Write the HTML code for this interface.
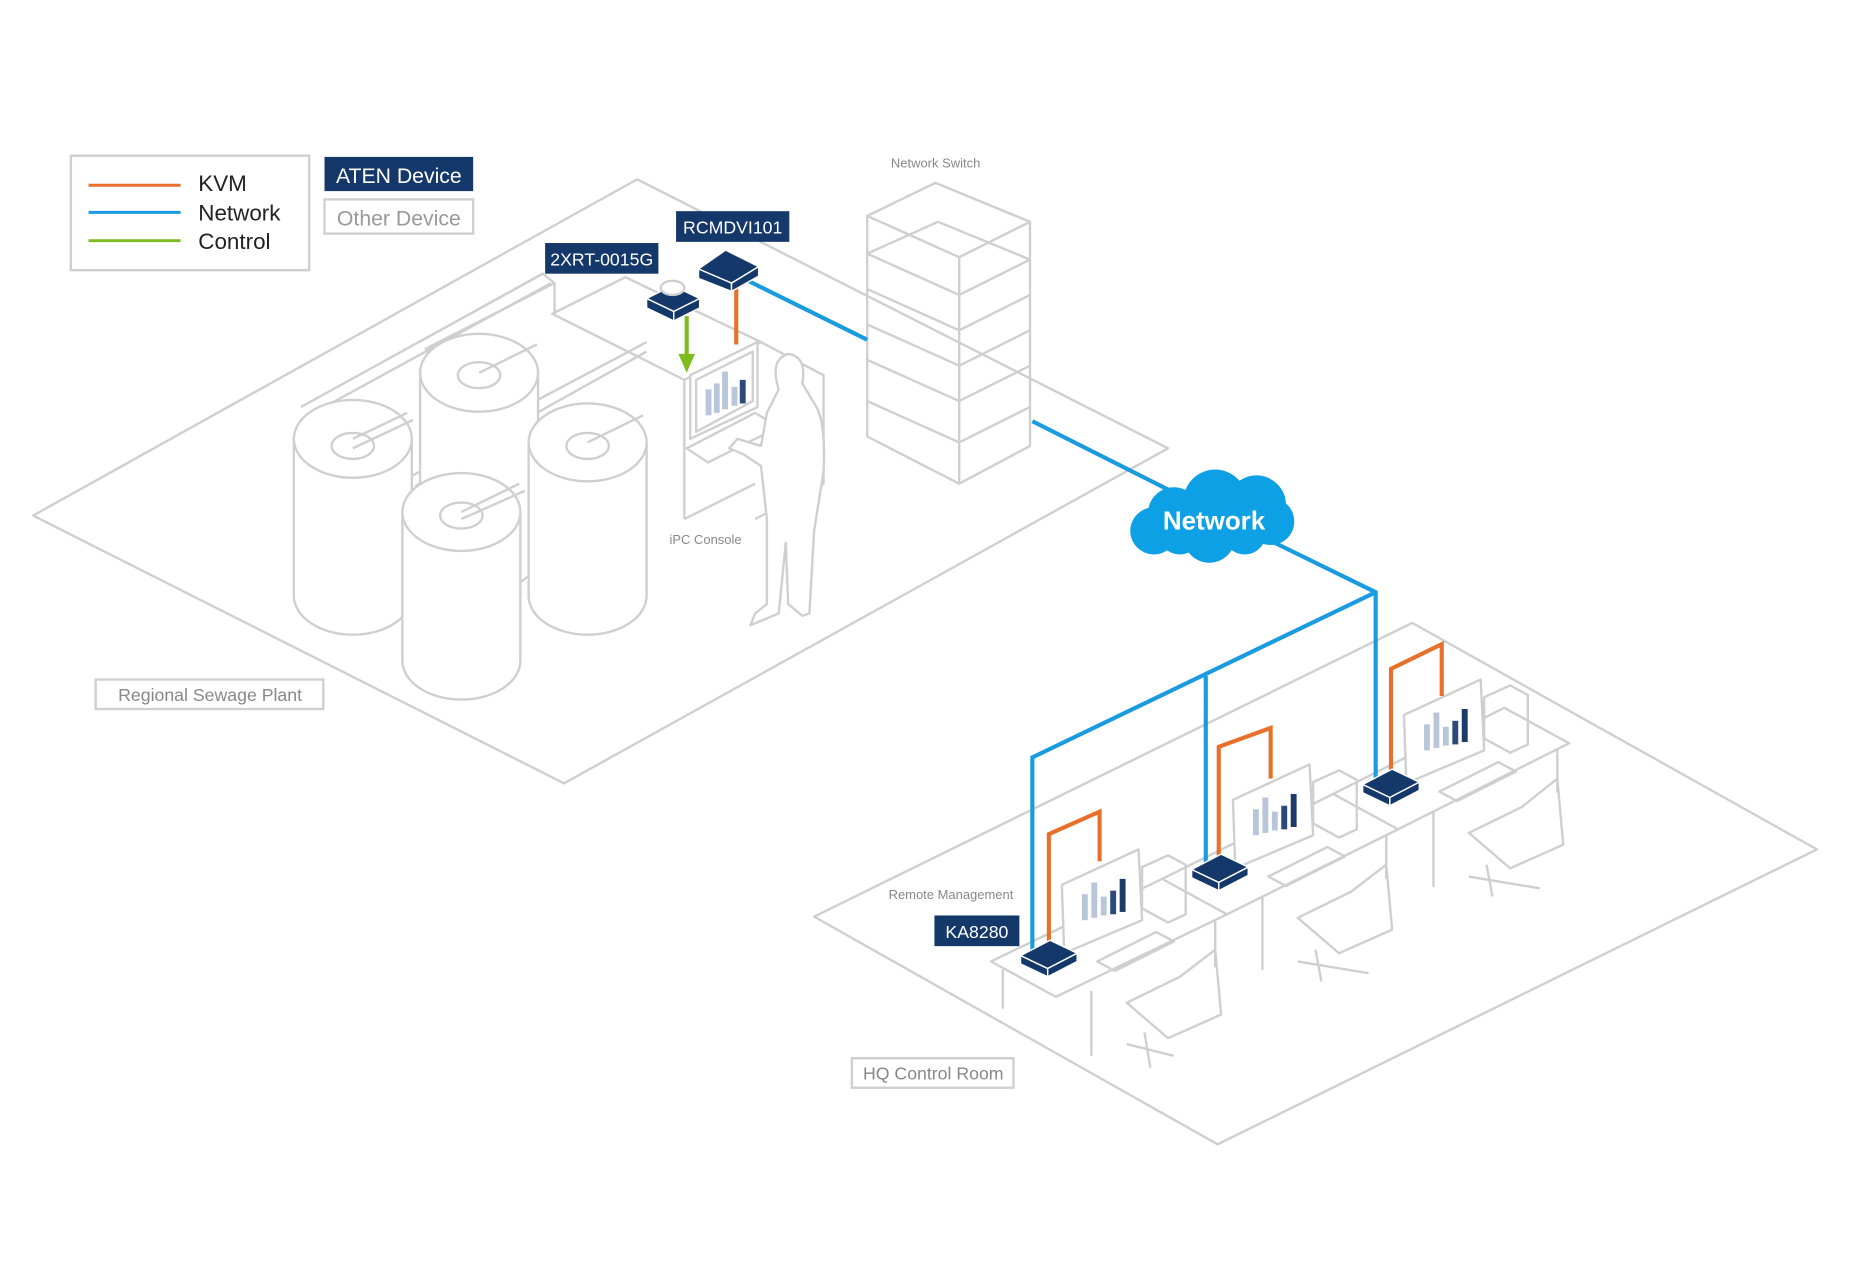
<!DOCTYPE html>
<html><head><meta charset="utf-8"><style>
html,body{margin:0;padding:0;background:#fff;}
svg{display:block;}
text{font-family:"Liberation Sans",sans-serif;}
</style></head><body>
<svg width="1850" height="1280" viewBox="0 0 1568 1085" xmlns="http://www.w3.org/2000/svg">
<rect width="1568" height="1085" fill="#fff"/>
<g fill="none" stroke="#cfcfcf" stroke-width="2" stroke-linejoin="round">
<!-- floors -->
<polygon points="28,437 540,152 990,380 478,664"/>
<polygon points="690,777 1197,528 1540,720 1032,970"/>
<!-- pipes -->
<path d="M255,345 L460,232 L470,240 L470,268 M262,352 L467,240"/>
<path d="M355,290 L460,232 M360,296 L470,240"/>
<path d="M346,405 L448,350 M352,412 L455,356"/>
<path d="M450,342 L548,290 M455,350 L548,298"/>
<!-- tanks -->
<g fill="#fff">
<path d="M356,316 L356,470 A50,33 0 0 0 456,470 L456,316 Z"/>
<ellipse cx="406" cy="316" rx="50" ry="33"/><ellipse cx="406" cy="318" rx="18" ry="11"/>
<path d="M249,372 L249,505 A50,33 0 0 0 349,505 L349,372 Z"/>
<ellipse cx="299" cy="372" rx="50" ry="33"/><ellipse cx="299" cy="378" rx="18" ry="11"/>
<path d="M448,375 L448,505 A50,33 0 0 0 548,505 L548,375 Z"/>
<ellipse cx="498" cy="375" rx="50" ry="33"/><ellipse cx="498" cy="378" rx="18" ry="11"/>
<path d="M341,434 L341,560 A50,33 0 0 0 441,560 L441,434 Z"/>
<ellipse cx="391" cy="434" rx="50" ry="33"/><ellipse cx="391" cy="437" rx="18" ry="11"/>
</g>
<path d="M299,372 L345,350 M299,380 L350,356 M498,375 L545,352 M406,316 L455,292 M391,434 L440,410 M391,440 L445,416"/>
<!-- console -->
<path d="M468,266 L530,235 L645,290 L580,322 Z M580,322 L580,440 M645,290 L698,318 L698,410 L640,440 M580,440 L640,410"/>
<polygon points="585,318 642,290 642,345 585,372" fill="#fff"/>
<polygon points="590,322 638,298 638,340 590,366"/>
<path d="M582,380 L640,350 L660,362 L600,392 Z"/>
<!-- person -->
<path d="M660,330 Q652,305 668,300 Q684,302 680,325 L692,345 Q700,360 698,400 L690,450 L686,520 L680,522 L668,512 L666,460 L660,520 L636,530 L640,520 L650,512 L650,440 L645,395 L630,385 L618,380 L625,372 L645,378 L650,350 Z" fill="#fff"/>
<!-- rack -->
<polygon points="735,183 793,155 873,188 813,218" fill="#fff"/>
<path d="M735,183 L735,370 L813,410 L873,378 L873,188 M813,218 L813,410"/>
<path d="M735,215 L795,188 L873,220 M735,215 L813,250 L873,220"/>
<path d="M735,245 L813,280 L873,250 M735,275 L813,310 L873,280 M735,305 L813,340 L873,310 M735,340 L813,375 L873,345"/>
<!-- desks -->
<g>
<path d="M840,815 L985,745 L1040,775 L895,845 Z M850,822 L850,855 M925,840 L925,895 M1030,780 L1030,820"/>
<path d="M985,745 L1130,673 L1185,703 L1040,775 M1070,760 L1070,822 M1175,708 L1175,745"/>
<path d="M1130,673 L1275,600 L1330,630 L1185,703 M1215,688 L1215,752 M1320,635 L1320,672"/>
<polygon points="900,750 965,720 968,780 902,808" fill="#fff"/>
<polygon points="1045,678 1110,648 1113,708 1047,736" fill="#fff"/>
<polygon points="1190,606 1255,576 1258,636 1192,664" fill="#fff"/>
<path d="M968,735 L990,725 L1005,733 L1005,775 L990,782 L968,770 Z M1113,663 L1135,653 L1150,661 L1150,703 L1135,710 L1113,698 Z M1258,591 L1280,581 L1295,589 L1295,631 L1280,638 L1258,626 Z"/>
<path d="M930,815 L980,790 L995,798 L945,823 Z M1075,743 L1125,718 L1140,726 L1090,751 Z M1220,671 L1270,646 L1285,654 L1235,679 Z"/>
<path d="M955,850 L1000,828 L1030,805 L1035,860 L990,880 Z M970,875 L975,905 M955,885 L995,895 M1100,778 L1145,756 L1175,733 L1180,788 L1135,808 Z M1115,805 L1120,832 M1100,815 L1160,825 M1245,706 L1290,684 L1320,660 L1325,716 L1280,736 Z M1260,733 L1265,760 M1245,743 L1305,753"/>
</g>
</g>
<!-- bars -->
<g fill="#b9c6da"><rect x="598" y="330" width="5" height="22"/><rect x="605" y="325" width="5" height="25"/><rect x="612" y="315" width="5" height="32"/><rect x="620" y="328" width="5" height="16"/><rect x="627" y="322" width="5" height="20" fill="#2b4a7a"/>
<rect x="917" y="758" width="5" height="22"/><rect x="925" y="748" width="5" height="30"/><rect x="933" y="760" width="5" height="16"/><rect x="941" y="755" width="5" height="20" fill="#2b4a7a"/><rect x="949" y="745" width="5" height="28" fill="#1c3a6a"/>
<rect x="1062" y="686" width="5" height="22"/><rect x="1070" y="676" width="5" height="30"/><rect x="1078" y="688" width="5" height="16"/><rect x="1086" y="683" width="5" height="20" fill="#2b4a7a"/><rect x="1094" y="673" width="5" height="28" fill="#1c3a6a"/>
<rect x="1207" y="614" width="5" height="22"/><rect x="1215" y="604" width="5" height="30"/><rect x="1223" y="616" width="5" height="16"/><rect x="1231" y="611" width="5" height="20" fill="#2b4a7a"/><rect x="1239" y="601" width="5" height="28" fill="#1c3a6a"/></g>
<!-- network lines -->
<g fill="none" stroke="#1a9ae0" stroke-width="3.5">
<path d="M630,236 L735,288 M875,357 L1000,420 M1070,455 L1166,502 L1166,665 M1166,502 L875,642 L875,808 M1022,573 L1022,735"/>
</g>
<g fill="none" stroke="#e8702a" stroke-width="3.5">
<path d="M624,240 L624,292 M889,808 L889,707 L932,688 L932,730 M1033,733 L1033,633 L1077,617 L1077,660 M1179,662 L1179,567 L1222,546 L1222,590"/>
</g>
<path d="M582,268 L582,305" stroke="#7cbc1e" stroke-width="3.5"/>
<polygon points="575,300 589,300 582,316" fill="#7cbc1e"/>
<!-- devices -->
<g fill="#15386a" stroke="#fff" stroke-width="1.2">
<polygon points="592,228 615,212 643,226 620,240"/><polygon points="592,228 620,240 620,247 592,236"/><polygon points="620,240 643,226 643,234 620,247"/>
<polygon points="548,253 570,242 593,253 571,264"/><polygon points="548,253 571,264 571,272 548,261"/><polygon points="571,264 593,253 593,261 571,272"/>
<polygon points="865,810 890,797 913,808 888,821"/><polygon points="865,810 888,821 888,828 865,817"/><polygon points="888,821 913,808 913,815 888,828"/>
<polygon points="1010,737 1035,724 1058,735 1033,748"/><polygon points="1010,737 1033,748 1033,755 1010,744"/><polygon points="1033,748 1058,735 1058,742 1033,755"/>
<polygon points="1155,665 1180,652 1203,663 1178,676"/><polygon points="1155,665 1178,676 1178,683 1155,672"/><polygon points="1178,676 1203,663 1203,670 1178,683"/>
</g>
<ellipse cx="570" cy="244" rx="10" ry="6" fill="#fff" stroke="#cfcfcf" stroke-width="2"/>
<!-- cloud -->
<g fill="#0ea0e4"><circle cx="1030" cy="425" r="27"/><circle cx="995" cy="435" r="22"/><circle cx="1065" cy="428" r="25"/><circle cx="978" cy="450" r="20"/><circle cx="1077" cy="442" r="20"/><circle cx="1025" cy="455" r="22"/><circle cx="1000" cy="452" r="18"/><circle cx="1055" cy="452" r="18"/></g>
<text x="1029" y="449" font-size="22" font-weight="bold" fill="#fff" text-anchor="middle">Network</text>
<!-- legend -->
<rect x="60" y="132" width="202" height="97" fill="#fff" stroke="#cfcfcf" stroke-width="2"/>
<path d="M75,157 L153,157" stroke="#e8702a" stroke-width="2.5"/>
<path d="M75,180 L153,180" stroke="#1a9ae0" stroke-width="2.5"/>
<path d="M75,204 L153,204" stroke="#7cbc1e" stroke-width="2.5"/>
<text x="168" y="162" font-size="19" fill="#222">KVM</text>
<text x="168" y="187" font-size="19" fill="#222">Network</text>
<text x="168" y="211" font-size="19" fill="#222">Control</text>
<rect x="275" y="133" width="126" height="29" fill="#15386a"/>
<text x="338" y="155" font-size="18" fill="#fff" text-anchor="middle">ATEN Device</text>
<rect x="275" y="169" width="126" height="29" fill="#fff" stroke="#cfcfcf" stroke-width="2"/>
<text x="338" y="191" font-size="18" fill="#999" text-anchor="middle">Other Device</text>
<rect x="573" y="179" width="96" height="26" fill="#15386a"/>
<text x="621" y="198" font-size="15" fill="#fff" text-anchor="middle">RCMDVI101</text>
<rect x="462" y="206" width="96" height="26" fill="#15386a"/>
<text x="510" y="225" font-size="15" fill="#fff" text-anchor="middle">2XRT-0015G</text>
<rect x="792" y="776" width="72" height="26" fill="#15386a"/>
<text x="828" y="795" font-size="15" fill="#fff" text-anchor="middle">KA8280</text>
<text x="793" y="142" font-size="11" fill="#888" text-anchor="middle">Network Switch</text>
<text x="598" y="461" font-size="11" fill="#888" text-anchor="middle">iPC Console</text>
<text x="806" y="762" font-size="11" fill="#888" text-anchor="middle">Remote Management</text>
<rect x="81" y="576" width="193" height="25" fill="#fff" stroke="#cfcfcf" stroke-width="2"/>
<text x="178" y="594" font-size="15" fill="#888" text-anchor="middle">Regional Sewage Plant</text>
<rect x="722" y="897" width="137" height="25" fill="#fff" stroke="#cfcfcf" stroke-width="2"/>
<text x="791" y="915" font-size="15" fill="#888" text-anchor="middle">HQ Control Room</text>
</svg>
</body></html>
